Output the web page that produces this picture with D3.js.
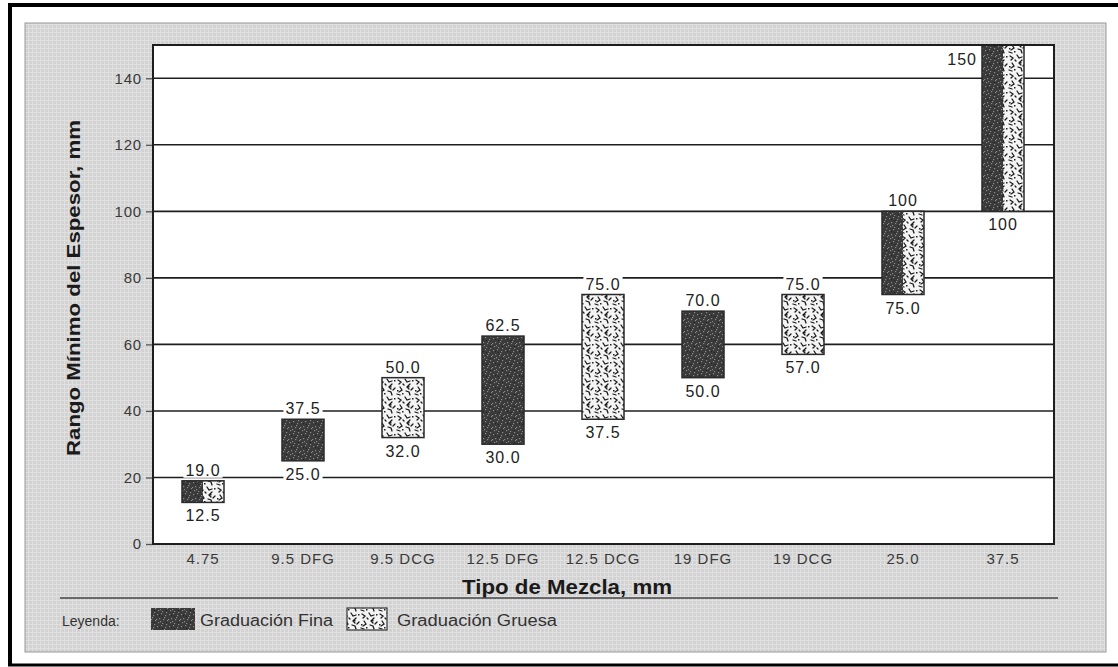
<!DOCTYPE html>
<html><head><meta charset="utf-8">
<script src="https://cdn.jsdelivr.net/npm/d3@7"></script>
<style>html,body{margin:0;padding:0;background:#fff;}svg{display:block;}</style>
</head><body>
<script>
// ---- data ----
const categories = ["4.75","9.5 DFG","9.5 DCG","12.5 DFG","12.5 DCG","19 DFG","19 DCG","25.0","37.5"];
const lowValues  = [12.5, 25.0, 32.0, 30.0, 37.5, 50.0, 57.0, 75.0, 100];
const highValues = [19.0, 37.5, 50.0, 62.5, 75.0, 70.0, 75.0, 100, 150];
const gradation  = ["both","fine","coarse","fine","coarse","fine","coarse","both","both"];
const yTicks = [0,20,40,60,80,100,120,140];
const legendLabels = ["Graduación Fina","Graduación Gruesa"];

const W = 1118, H = 667;
const FONT = "Liberation Sans, Arial, sans-serif";
const svg = d3.select("body").append("svg").attr("width", W).attr("height", H);
const defs = svg.append("defs");

// panel texture
const pp = defs.append("pattern").attr("id","panel").attr("width",4).attr("height",4).attr("patternUnits","userSpaceOnUse");
pp.append("rect").attr("width",4).attr("height",4).attr("fill","#d2d2d2");
pp.append("path").attr("d","M0,0.5H4M0.5,0V4").attr("stroke","#e0e0e0").attr("stroke-width",1);

// fine gradation texture (dark speckled)
const pf = defs.append("pattern").attr("id","fine").attr("width",12).attr("height",12).attr("patternUnits","userSpaceOnUse");
pf.append("rect").attr("width",12).attr("height",12).attr("fill","#3a3a3a");
[[1,2],[5,1],[9,3],[3,6],[7,7],[11,8],[2,10],[6,11],[10,0],[8,5],[4,9],[0,7]].forEach(([x,y])=>
  pf.append("rect").attr("x",x).attr("y",y).attr("width",1.2).attr("height",1.2).attr("fill","#8a8a8a"));
[[3,3],[10,10],[6,4]].forEach(([x,y])=>
  pf.append("rect").attr("x",x).attr("y",y).attr("width",1).attr("height",1).attr("fill","#222"));

// coarse gradation texture (white with black squiggles)
const pc = defs.append("pattern").attr("id","coarse").attr("width",18).attr("height",18).attr("patternUnits","userSpaceOnUse");
pc.append("rect").attr("width",18).attr("height",18).attr("fill","#f4f4f4");
pc.append("path").attr("d","M2,2 l3,2 l-2,2 M9,1 l2,3 l3,-1 M14,6 l-3,3 l2,2 M4,9 l2,3 l-3,2 M10,13 l3,1 l1,3 M15,12 l2,-2 M1,16 l3,1 M7,6 l1,1")
  .attr("stroke","#1a1a1a").attr("stroke-width",1.3).attr("fill","none").attr("stroke-linecap","round");
[[6,15],[16,2],[12,8],[1,12]].forEach(([x,y])=>pc.append("rect").attr("x",x).attr("y",y).attr("width",1.5).attr("height",1.5).attr("fill","#222"));

// outer frame
svg.append("line").attr("x1",8).attr("x2",W).attr("y1",5).attr("y2",5).attr("stroke","#000").attr("stroke-width",4);
svg.append("line").attr("x1",10).attr("x2",10).attr("y1",3).attr("y2",666).attr("stroke","#000").attr("stroke-width",4);
svg.append("line").attr("x1",8).attr("x2",W).attr("y1",665).attr("y2",665).attr("stroke","#000").attr("stroke-width",3);

// gray panel
svg.append("rect").attr("x",25).attr("y",23).attr("width",1081).attr("height",629)
  .attr("fill","url(#panel)").attr("stroke","#9a9a9a").attr("stroke-width",1);

// scales
const plotL = 153, plotR = 1054, plotT = 45, plotB = 544;
const x = d3.scaleBand().domain(categories).range([plotL, plotL + 900]).paddingInner(0.58).paddingOuter(0.29);
const y = d3.scaleLinear().domain([0,150]).range([plotB, plotT]);

// plot background
svg.append("rect").attr("x",plotL).attr("y",plotT).attr("width",plotR-plotL).attr("height",plotB-plotT).attr("fill","#fff");

// gridlines
svg.append("g").selectAll("line").data(yTicks.filter(d=>d>0)).join("line")
  .attr("x1",plotL).attr("x2",plotR).attr("y1",d=>y(d)).attr("y2",d=>y(d))
  .attr("stroke","#1e1e1e").attr("stroke-width",1.6);

// y axis
const yAxis = svg.append("g").attr("transform",`translate(${plotL},0)`)
  .call(d3.axisLeft(y).tickValues(yTicks).tickSize(7).tickPadding(4).tickFormat(d3.format("d")));
yAxis.select(".domain").remove();
yAxis.selectAll(".tick line").attr("stroke","#555").attr("stroke-width",1.3);
yAxis.selectAll(".tick text").attr("font-family",FONT).attr("font-size",15).attr("letter-spacing",0.8).attr("fill","#3a3a3a");

// x axis labels
const xAxis = svg.append("g").attr("transform",`translate(0,${plotB})`)
  .call(d3.axisBottom(x).tickSize(0).tickPadding(9));
xAxis.select(".domain").remove();
xAxis.selectAll(".tick text").attr("font-family",FONT).attr("font-size",15).attr("letter-spacing",1).attr("fill","#3a3a3a");

// bars
const rows = categories.map((c,i)=>({c, lo:lowValues[i], hi:highValues[i], g:gradation[i]}));
const bars = svg.append("g");
rows.forEach(r=>{
  const bx = x(r.c), bw = x.bandwidth(), ty = y(r.hi), h = y(r.lo)-y(r.hi);
  if (r.g === "both") {
    bars.append("rect").attr("x",bx).attr("y",ty).attr("width",bw/2).attr("height",h).attr("fill","url(#fine)");
    bars.append("rect").attr("x",bx+bw/2).attr("y",ty).attr("width",bw/2).attr("height",h).attr("fill","url(#coarse)");
  } else {
    bars.append("rect").attr("x",bx).attr("y",ty).attr("width",bw).attr("height",h).attr("fill",r.g==="fine"?"url(#fine)":"url(#coarse)");
  }
  bars.append("rect").attr("x",bx).attr("y",ty).attr("width",bw).attr("height",h)
    .attr("fill","none").attr("stroke","#2a2a2a").attr("stroke-width",1.5);
});

// plot border
svg.append("rect").attr("x",plotL).attr("y",plotT).attr("width",plotR-plotL).attr("height",plotB-plotT)
  .attr("fill","none").attr("stroke","#1e1e1e").attr("stroke-width",2);

// value labels
const fmt = v => v >= 100 ? d3.format("d")(v) : d3.format(".1f")(v);
const lab = svg.append("g").attr("font-family",FONT).attr("font-size",16).attr("letter-spacing",1).attr("fill","#222");
function addLabel(tx, ty, text, anchor){
  const g = lab.append("g");
  const t = g.append("text").attr("x",tx).attr("y",ty).attr("text-anchor",anchor).text(text);
  const b = t.node().getBBox();
  g.insert("rect","text").attr("x",b.x-2).attr("y",b.y+1).attr("width",b.width+4).attr("height",b.height-2).attr("fill","#fff");
}
rows.forEach((r,i)=>{
  const cx = x(r.c) + x.bandwidth()/2;
  if (i === rows.length-1) {
    addLabel(x(r.c)-5, y(r.hi)+20, fmt(r.hi), "end");
  } else {
    addLabel(cx, y(r.hi)-5, fmt(r.hi), "middle");
  }
  addLabel(cx, y(r.lo)+19, fmt(r.lo), "middle");
});

// axis titles
svg.append("text").attr("x",567).attr("y",594).attr("text-anchor","middle")
  .attr("font-family",FONT).attr("font-size",20).attr("font-weight","bold").attr("fill","#1a1a1a")
  .attr("textLength",210).attr("lengthAdjust","spacingAndGlyphs")
  .text("Tipo de Mezcla, mm");
svg.append("text").attr("transform","translate(80,288) rotate(-90)").attr("text-anchor","middle")
  .attr("font-family",FONT).attr("font-size",18).attr("font-weight","bold").attr("fill","#1a1a1a")
  .attr("textLength",336).attr("lengthAdjust","spacingAndGlyphs")
  .text("Rango Mínimo del Espesor, mm");

// legend
svg.append("line").attr("x1",60).attr("x2",1058).attr("y1",598).attr("y2",598).attr("stroke","#444").attr("stroke-width",1.5);
const lg = svg.append("g").attr("font-family",FONT).attr("fill","#333");
lg.append("text").attr("x",62).attr("y",626).attr("font-size",14).text("Leyenda:");
lg.append("rect").attr("x",151).attr("y",608).attr("width",44).attr("height",22).attr("fill","url(#fine)");
lg.append("text").attr("x",200).attr("y",626).attr("font-size",16).attr("textLength",133).attr("lengthAdjust","spacingAndGlyphs").text(legendLabels[0]);
lg.append("rect").attr("x",347).attr("y",608).attr("width",40).attr("height",22).attr("fill","url(#coarse)").attr("stroke","#333").attr("stroke-width",1.2);
lg.append("text").attr("x",397).attr("y",626).attr("font-size",16).attr("textLength",160).attr("lengthAdjust","spacingAndGlyphs").text(legendLabels[1]);
</script>
</body></html>
